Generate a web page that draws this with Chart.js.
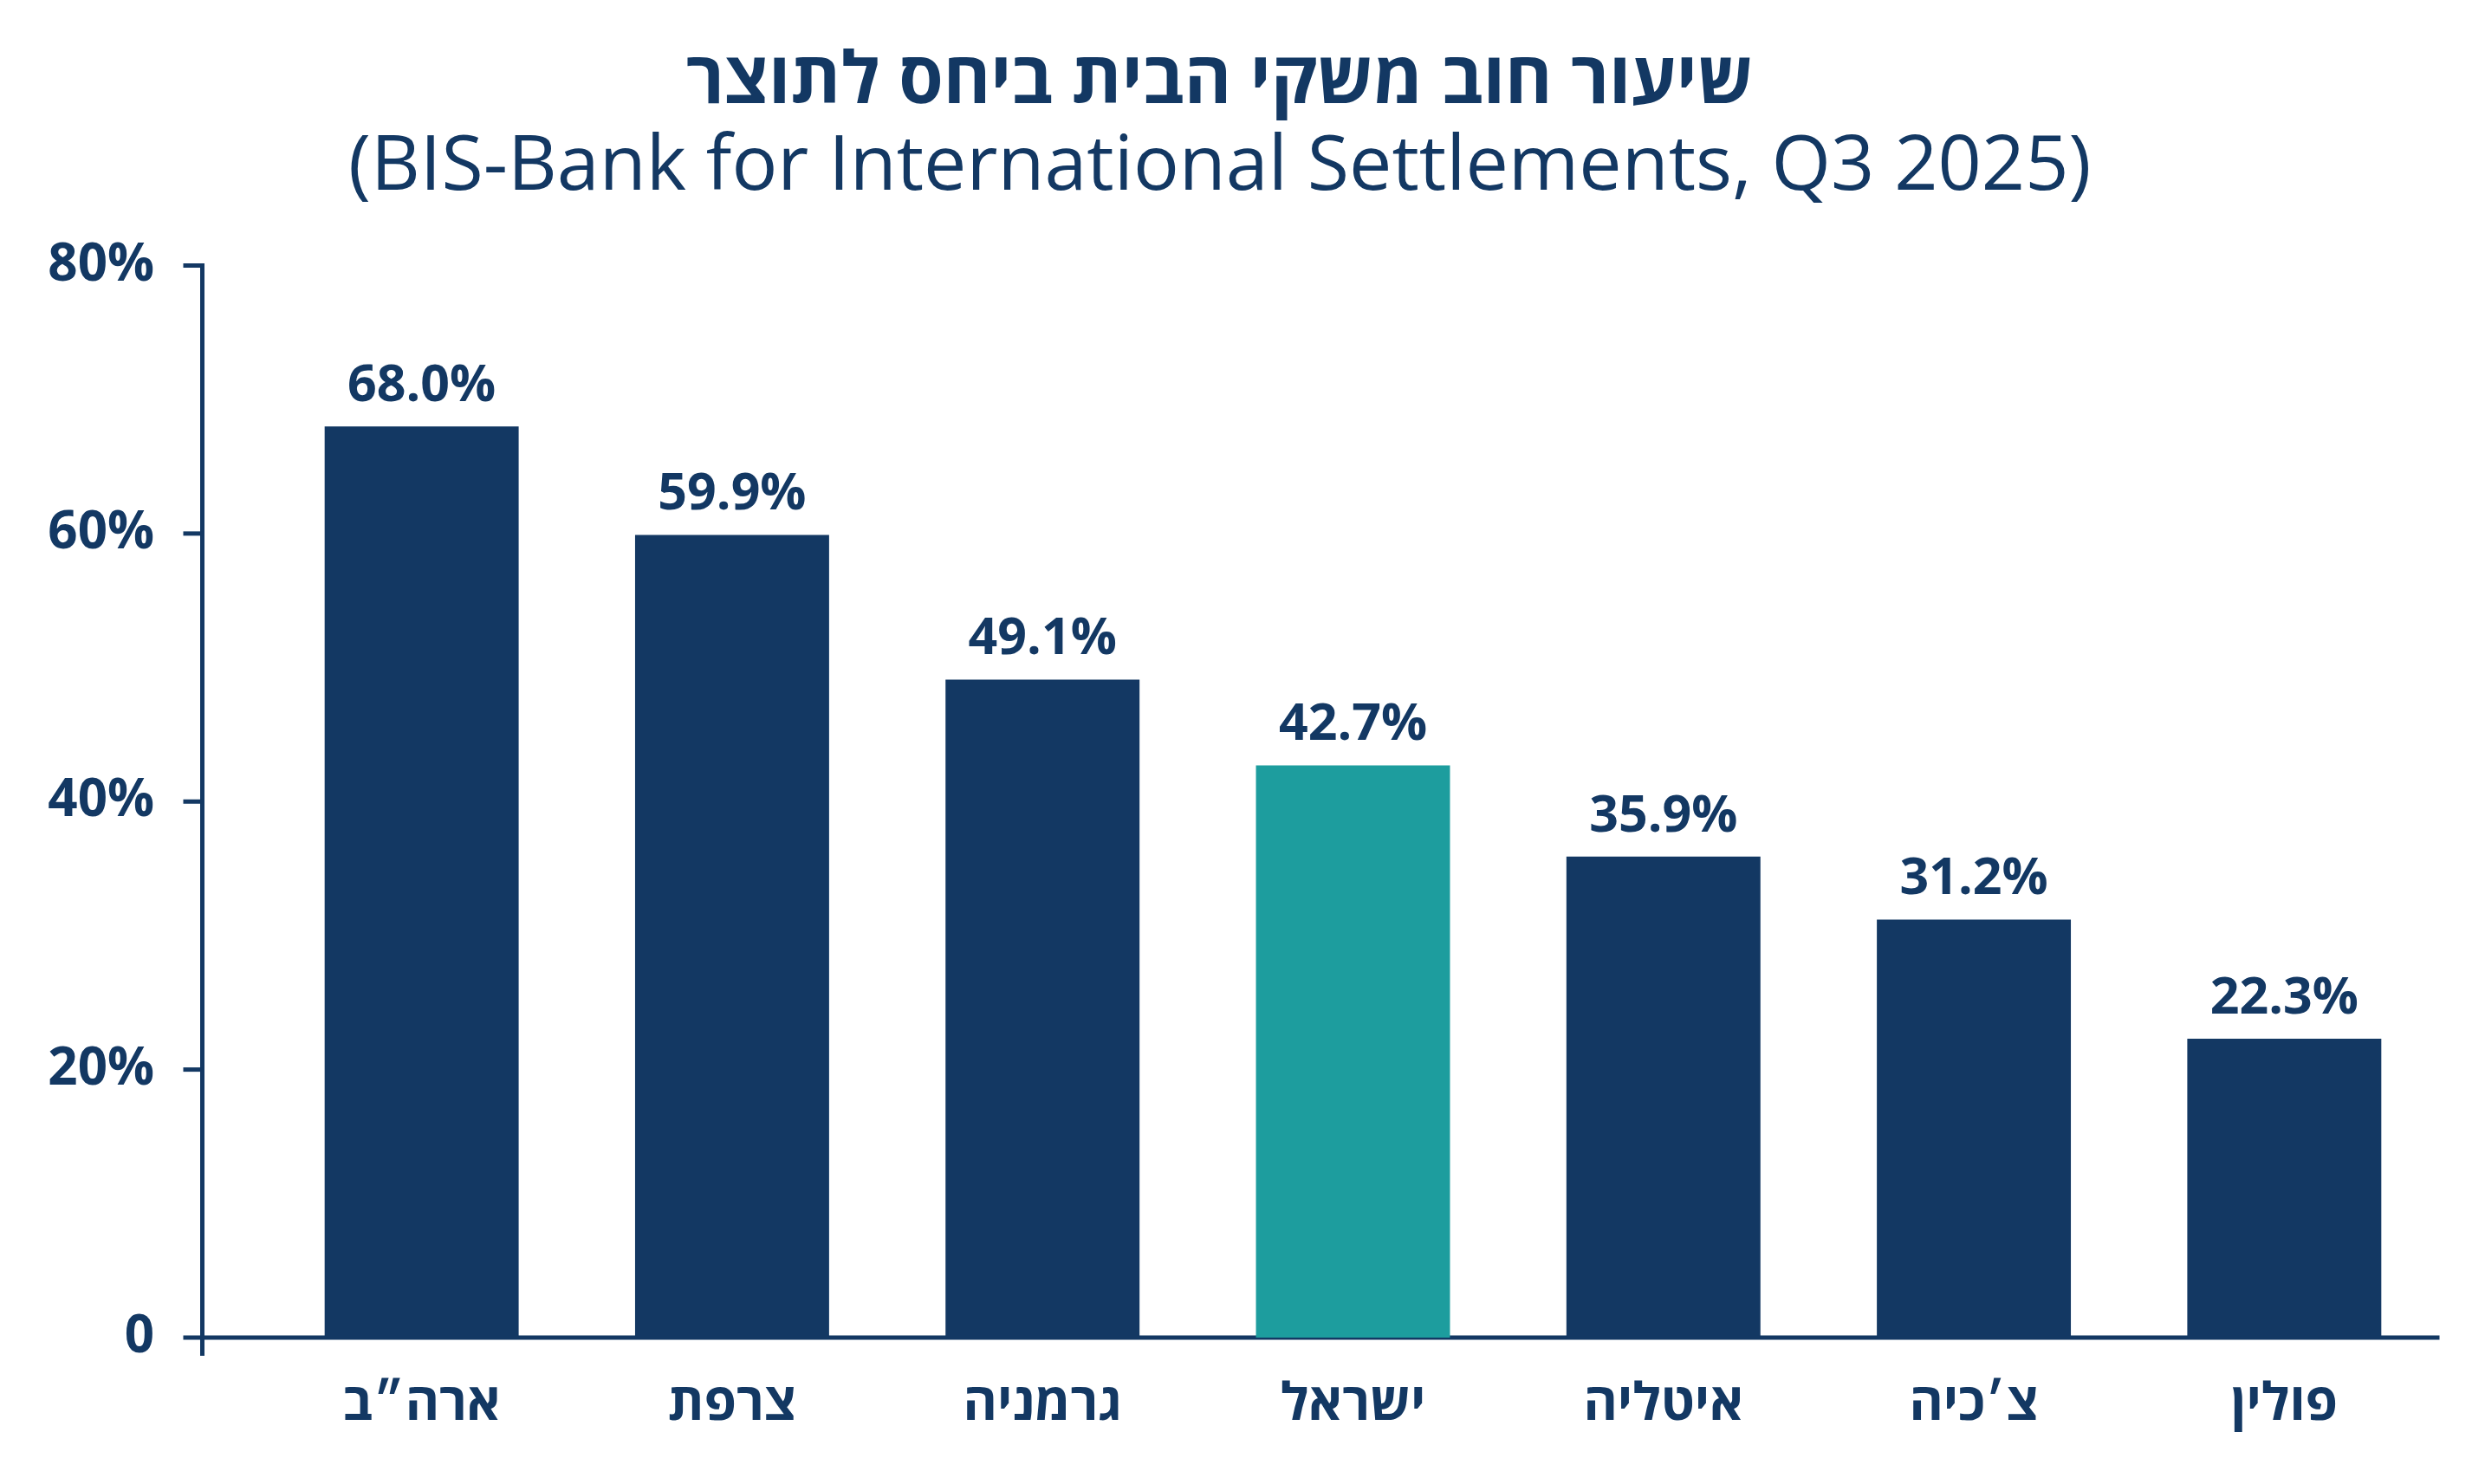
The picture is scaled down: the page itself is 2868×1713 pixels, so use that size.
<!DOCTYPE html>
<html lang="he">
<head>
<meta charset="utf-8">
<title>שיעור חוב משקי הבית ביחס לתוצר</title>
<script src="https://cdn.jsdelivr.net/npm/chart.js@4/dist/chart.umd.min.js"></script>
<style>
  html, body { margin: 0; padding: 0; background: #ffffff; }
  #wrap { width: 2868px; height: 1713px; position: relative; }
</style>
</head>
<body>
<div id="wrap"><canvas id="c" width="2868" height="1713"></canvas></div>
<script>
// ---- data ----
const categories = ['ארה״ב', 'צרפת', 'גרמניה', 'ישראל', 'איטליה', 'צ׳כיה', 'פולין'];
const debtToGdp = [68.0, 59.9, 49.1, 42.7, 35.9, 31.2, 22.3];
const highlighted = ['ישראל'];
const yTicks = [0, 20, 40, 60, 80];
const titleText = 'שיעור חוב משקי הבית ביחס לתוצר';
const subtitleText = '(BIS-Bank for International Settlements, Q3 2025)';

// ---- style ----
const NAVY = '#133863';
const TEAL = '#1d9d9e';
const FONT = "'Open Sans', 'Liberation Sans', 'DejaVu Sans', sans-serif";

const axisPlugin = {
  id: 'axisLines',
  beforeDatasetsDraw(chart) {
    const { ctx, chartArea, scales } = chart;
    const y = scales.y;
    const axisX = chartArea.left - 74;
    const tickLen = 22;
    const zeroY = y.getPixelForValue(0);
    ctx.save();
    ctx.strokeStyle = NAVY;
    ctx.lineWidth = 5;
    ctx.lineCap = 'butt';
    // y axis line
    ctx.beginPath();
    ctx.moveTo(axisX, y.getPixelForValue(yTicks[yTicks.length - 1]) - 2.5);
    ctx.lineTo(axisX, zeroY + 21);
    ctx.stroke();
    // y tick marks
    yTicks.forEach(v => {
      if (v === 0) return;
      const py = y.getPixelForValue(v);
      ctx.beginPath();
      ctx.moveTo(axisX - tickLen, py);
      ctx.lineTo(axisX, py);
      ctx.stroke();
    });
    // x axis (zero) line
    ctx.beginPath();
    ctx.moveTo(axisX - tickLen, zeroY);
    ctx.lineTo(chartArea.right, zeroY);
    ctx.stroke();
    ctx.restore();
  }
};

const valueLabelPlugin = {
  id: 'valueLabels',
  afterDatasetsDraw(chart) {
    const { ctx } = chart;
    const meta = chart.getDatasetMeta(0);
    ctx.save();
    ctx.fillStyle = NAVY;
    ctx.font = `bold 59px ${FONT}`;
    ctx.textAlign = 'center';
    ctx.textBaseline = 'alphabetic';
    meta.data.forEach((bar, i) => {
      const v = chart.data.datasets[0].data[i];
      ctx.fillText(v.toFixed(1) + '%', bar.x, bar.y - 29);
    });
    ctx.restore();
  }
};

new Chart(document.getElementById('c'), {
  type: 'bar',
  data: {
    labels: categories,
    datasets: [{
      data: debtToGdp,
      backgroundColor: categories.map(c => highlighted.includes(c) ? TEAL : NAVY),
      borderWidth: 0,
      categoryPercentage: 1.0,
      barPercentage: 0.625
    }]
  },
  options: {
    responsive: false,
    devicePixelRatio: 1,
    animation: false,
    layout: { padding: { left: 0, right: 52.5, top: 30, bottom: 0 } },
    plugins: {
      legend: { display: false },
      tooltip: { enabled: false },
      title: {
        display: true,
        text: titleText,
        color: NAVY,
        font: { family: FONT, size: 83, weight: 'bold', lineHeight: 1.1 },
        padding: { top: 20, bottom: 0 }
      },
      subtitle: {
        display: true,
        text: subtitleText,
        color: NAVY,
        font: { family: FONT, size: 88, weight: 'normal', lineHeight: 1.2 },
        padding: { top: 0, bottom: 59.6 }
      }
    },
    scales: {
      x: {
        type: 'category',
        grid: { display: false, drawTicks: false },
        border: { display: false },
        ticks: {
          color: NAVY,
          font: { family: FONT, size: 60, weight: 'bold' },
          padding: 42,
          maxRotation: 0,
          autoSkip: false
        },
        afterFit(scale) { scale.height = 169; }
      },
      y: {
        type: 'linear',
        min: 0,
        max: 80,
        grid: { display: false, drawTicks: false },
        border: { display: false },
        afterBuildTicks(scale) { scale.ticks = yTicks.map(v => ({ value: v })); },
        ticks: {
          color: NAVY,
          font: { family: FONT, size: 60, weight: 'bold' },
          padding: 129.5,
          callback: v => v === 0 ? '0' : v + '%'
        },
        afterFit(scale) { scale.width = 307.5; }
      }
    }
  },
  plugins: [axisPlugin, valueLabelPlugin]
});
</script>
</body>
</html>
